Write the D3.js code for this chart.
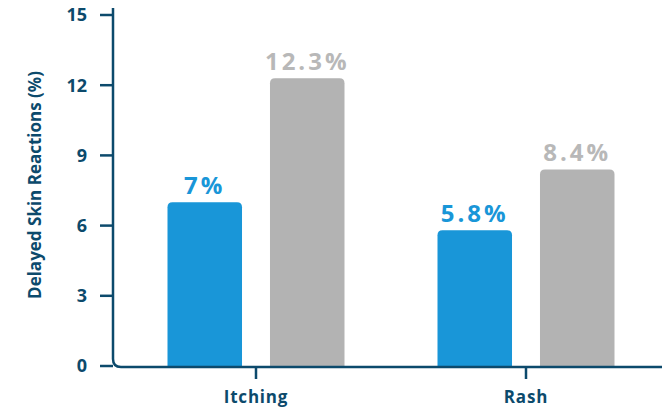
<!DOCTYPE html>
<html>
<head>
<meta charset="utf-8">
<script src="https://cdn.jsdelivr.net/npm/d3@7"></script>
<style>
  html, body { margin: 0; padding: 0; background: #ffffff; }
  svg { display: block; }
  text { font-family: "Open Sans", "Noto Sans", sans-serif; }
</style>
</head>
<body>
<svg id="chart" width="664" height="411"></svg>
<script>
// Delayed skin reactions by symptom, two groups per symptom
const categories = ["Itching", "Rash"];
const seriesNames = ["Group A", "Group B"];
const groupA = [7, 5.8];
const groupB = [12.3, 8.4];
const valueLabels = [["7%", "12.3%"], ["5.8%", "8.4%"]];
const yTicks = [0, 3, 6, 9, 12, 15];
const yTitle = "Delayed Skin Reactions (%)";

const colors = ["#1996d8", "#b3b3b3"];
const labelColors = ["#1996d8", "#b8b8b8"];
const navy = "#0c4a6c";

const svg = d3.select("#chart");
const axisX = 113, axisY = 367;

const y = d3.scaleLinear().domain([0, 15]).range([366, 15]);
const x0 = d3.scaleBand().domain(categories).range([121, 661]).padding(0);
const x1 = d3.scaleBand().domain(seriesNames).range([0, x0.bandwidth()])
  .paddingInner(0.273).paddingOuter(0.4537);

const rows = categories.map((c, i) => ({
  cat: c,
  vals: [groupA[i], groupB[i]].map((v, j) => ({ key: seriesNames[j], v, label: valueLabels[i][j], j }))
}));

// Bars with rounded top corners
function topRounded(x, yTop, w, yBot, r) {
  return `M${x},${yBot} L${x},${yTop + r} Q${x},${yTop} ${x + r},${yTop} ` +
         `L${x + w - r},${yTop} Q${x + w},${yTop} ${x + w},${yTop + r} L${x + w},${yBot} Z`;
}

const groups = svg.append("g").selectAll("g").data(rows).join("g")
  .attr("transform", d => `translate(${x0(d.cat)},0)`);

groups.selectAll("path").data(d => d.vals).join("path")
  .attr("d", d => topRounded(x1(d.key), y(d.v), x1.bandwidth(), y(0), 5))
  .attr("fill", d => colors[d.j]);

groups.selectAll("text").data(d => d.vals).join("text")
  .attr("x", d => x1(d.key) + x1.bandwidth() / 2)
  .attr("y", d => y(d.v) - 8)
  .attr("text-anchor", "middle")
  .attr("font-size", 24)
  .attr("font-weight", 700)
  .attr("letter-spacing", 3)
  .attr("fill", d => labelColors[d.j])
  .text(d => d.label);

// Axis frame: vertical and horizontal lines joined by a rounded corner
const r = 8;
svg.append("path")
  .attr("d", `M${axisX},8 L${axisX},${axisY - r} Q${axisX},${axisY} ${axisX + r},${axisY} L662,${axisY}`)
  .attr("fill", "none").attr("stroke", navy).attr("stroke-width", 2.5);

// Y ticks
const yAxis = svg.append("g");
yAxis.selectAll("line").data(yTicks).join("line")
  .attr("x1", axisX - 13).attr("x2", axisX)
  .attr("y1", d => y(d)).attr("y2", d => y(d))
  .attr("stroke", navy).attr("stroke-width", 2.5);
yAxis.selectAll("text").data(yTicks).join("text")
  .attr("x", 87).attr("y", d => y(d)).attr("dy", "0.36em")
  .attr("text-anchor", "end")
  .attr("font-size", 18).attr("font-weight", 700)
  .attr("fill", navy)
  .text(d => d);

// X ticks and category labels
const xAxis = svg.append("g");
xAxis.selectAll("line").data(categories).join("line")
  .attr("x1", d => x0(d) + x0.bandwidth() / 2).attr("x2", d => x0(d) + x0.bandwidth() / 2)
  .attr("y1", axisY).attr("y2", axisY + 12)
  .attr("stroke", navy).attr("stroke-width", 2.5);
xAxis.selectAll("text").data(categories).join("text")
  .attr("x", d => x0(d) + x0.bandwidth() / 2).attr("y", 403)
  .attr("text-anchor", "middle")
  .attr("font-size", 17).attr("font-weight", 700)
  .attr("letter-spacing", 0.8)
  .attr("fill", navy)
  .text(d => d);

// Y axis title
svg.append("text")
  .attr("transform", `translate(41,185) rotate(-90)`)
  .attr("text-anchor", "middle")
  .attr("font-size", 17).attr("font-weight", 700)
  .attr("fill", navy)
  .attr("font-family", "'Liberation Sans Narrow', 'Open Sans', sans-serif")
  .text(yTitle);
</script>
</body>
</html>
